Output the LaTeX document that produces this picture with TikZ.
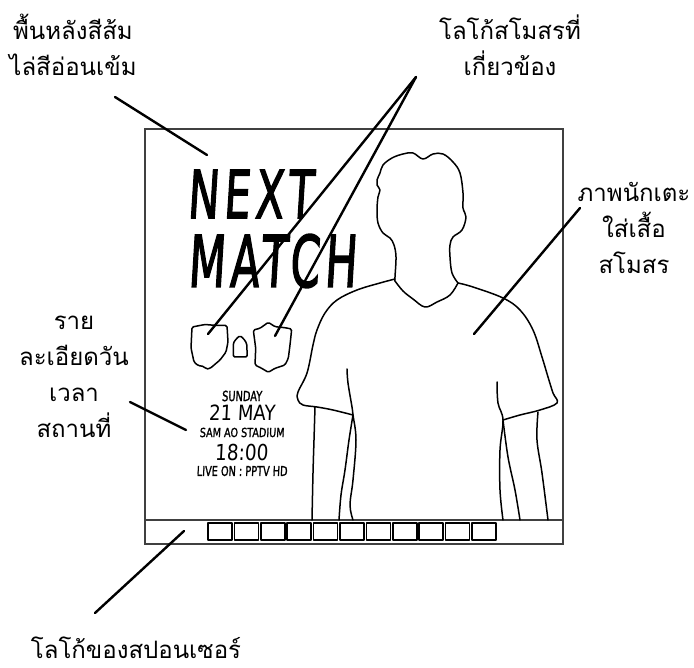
\documentclass[tikz,border=0pt]{standalone}
\usepackage{fontspec}
\usepackage{graphicx}
\newfontfamily\thaifont[Script=Thai]{Loma}
\newfontfamily\handfont[FakeSlant=0.1, FakeBold=2.5, LetterSpace=12]{DejaVu Sans}
\newfontfamily\smallhand[FakeSlant=0.06, FakeBold=1.5]{DejaVu Sans}
\newfontfamily\thinhand[FakeSlant=0.06]{DejaVu Sans}

\tikzset{
  note/.style={align=center, inner sep=0pt,
    font=\thaifont\fontsize{24}{36}\selectfont},
  leader/.style={line width=2.4pt, line cap=round},
  frame/.style={line width=1.6pt, draw=black!75},
  outline/.style={line width=1.5pt, line cap=round, line join=round},
  hand/.style={inner sep=0pt}
}

\begin{document}
\begin{tikzpicture}[x=1pt, y=-1pt]
  \useasboundingbox (0,0) rectangle (694,668);

  % poster frame and sponsor strip
  \draw[frame] (145,129) rectangle (563,544);
  \draw[frame] (145,520) -- (563,520);
  \foreach \i in {0,...,10}
    \draw[outline] ({208+26.4*\i},523) rectangle ++(24,17);

  % headline
  \node[hand, font=\handfont\fontsize{66}{66}\selectfont] (next) at (250,194) {\scalebox{0.63}[1]{NEXT}};
  \node[hand, font=\handfont\fontsize{71}{71}\selectfont] (match) at (272,261) {\scalebox{0.6}[1]{MATCH}};

  % club crests
  \draw[outline, rounded corners=1.5pt] (192,327) -- (205,324.5) -- (217,325.5) -- (227,325.5)
    -- (228,342) -- (226,352) -- (220,360) -- (210,368.5) -- (206,369) -- (204,366.5)
    -- (198,365.5) -- (194,362) -- (191,348) -- cycle;
  \draw[outline, rounded corners=1.5pt] (233.3,357) -- (233.3,343) -- (236.7,338.3) -- (240,335.7)
    -- (243.3,338.3) -- (246.7,343.3) -- (247.3,357) -- cycle;
  \draw[outline, rounded corners=1.5pt] (253.3,330) -- (260,328.3) -- (268.3,322.3) -- (275,326.7)
    -- (285,327.7) -- (291.7,329) -- (290,345) -- (288.3,358.3) -- (285,365) -- (275,368.3)
    -- (268.3,372.3) -- (261.7,368.3) -- (255,365) -- (255.7,348.3) -- cycle;

  % match details
  \node[hand, font=\smallhand\fontsize{14}{14}\selectfont] (day) at (242,396) {\scalebox{0.7}[1]{SUNDAY}};
  \node[hand, font=\thinhand\fontsize{21}{21}\selectfont] (date) at (242,412.5) {\scalebox{0.86}[1]{21 MAY}};
  \node[hand, font=\smallhand\fontsize{12.5}{12.5}\selectfont] (venue) at (242,432.5) {\scalebox{0.77}[1]{SAM AO STADIUM}};
  \node[hand, font=\thinhand\fontsize{22}{22}\selectfont] (time) at (241.5,452) {\scalebox{0.84}[1]{18:00}};
  \node[hand, font=\smallhand\fontsize{13.5}{13.5}\selectfont] (tv) at (242,471) {\scalebox{0.72}[1]{LIVE ON : PPTV HD}};

  % player
  \draw[outline] plot[smooth, tension=0.6] coordinates {(395,281) (395,277) (396,257) (394,245)
    (390,238) (383,233) (378,223) (377,210) (378,197) (380,190) (377,185) (377,180) (380,173)
    (383,165) (392,158) (403,154) (413,153) (423,159) (433,154) (443,154) (453,162) (460,173)
    (463,193) (463,208) (466,217) (462,230) (453,237) (450,245) (450,257) (452,273) (458,283)};
  \draw[outline] plot[smooth, tension=0.6] coordinates {(395,281) (403,291) (413,299) (425,307)
    (437,302) (450,295) (458,283)};
  \draw[outline] plot[smooth, tension=0.6] coordinates {(395,279) (380,283) (357,290) (337,300)
    (325,313) (317,330) (313,345) (307,373) (298,392) (298,400) (303,405) (317,407) (333,410) (353,415)};
  \draw[outline] plot[smooth, tension=0.6] coordinates {(347,369) (348,383) (352,407) (353,415)
    (356,440) (353,480) (350,505) (353,520)};
  \draw[outline] plot[smooth, tension=0.6] coordinates {(353,415) (349,440) (345,470) (341,495) (339,520)};
  \draw[outline] plot[smooth, tension=0.6] coordinates {(315,407) (314,440) (313,473) (312,520)};
  \draw[outline] plot[smooth, tension=0.6] coordinates {(458,283) (473,287) (503,298) (520,310)
    (533,330) (542,357) (548,377) (553,393) (557,403) (540,410) (520,415) (503,420)};
  \draw[outline] plot[smooth, tension=0.6] coordinates {(497,382) (498,403) (503,420) (500,450)
    (500,490) (503,520)};
  \draw[outline] plot[smooth, tension=0.6] coordinates {(503,420) (508,457) (515,490) (520,520)};
  \draw[outline] plot[smooth, tension=0.6] coordinates {(538,412) (537,440) (542,473) (548,520)};

  % notes
  \node[note] (bgnote) at (73,45) {พื้นหลังสีส้ม\\ไล่สีอ่อนเข้ม};
  \node[note] (clubnote) at (510,45) {โลโก้สโมสรที่\\เกี่ยวข้อง};
  \node[note] (playernote) at (634,228) {ภาพนักเตะ\\ใส่เสื้อ\\สโมสร};
  \node[note] (detailnote) at (74,377) {ราย\\ละเอียดวัน\\เวลา\\สถานที่};
  \node[note] (sponsornote) at (136,648) {โลโก้ของสปอนเซอร์};

  % leaders
  \coordinate (bgfoot) at (115,97);
  \coordinate (bgtip) at (207,155);
  \coordinate (clubfoot) at (416,77);
  \coordinate (crestA) at (208,334);
  \coordinate (crestB) at (275,336);
  \coordinate (playerfoot) at (580,208);
  \coordinate (shirt) at (474,334);
  \coordinate (detailfoot) at (130,402);
  \coordinate (detailtip) at (186,430);
  \coordinate (sponsorfoot) at (95,613);
  \coordinate (strip) at (184,531);
  \draw[leader] (bgfoot) -- (bgtip);
  \draw[leader] (clubfoot) -- (crestA);
  \draw[leader] (clubfoot) -- (crestB);
  \draw[leader] (playerfoot) -- (shirt);
  \draw[leader] (detailfoot) -- (detailtip);
  \draw[leader] (sponsorfoot) -- (strip);
\end{tikzpicture}
\end{document}
